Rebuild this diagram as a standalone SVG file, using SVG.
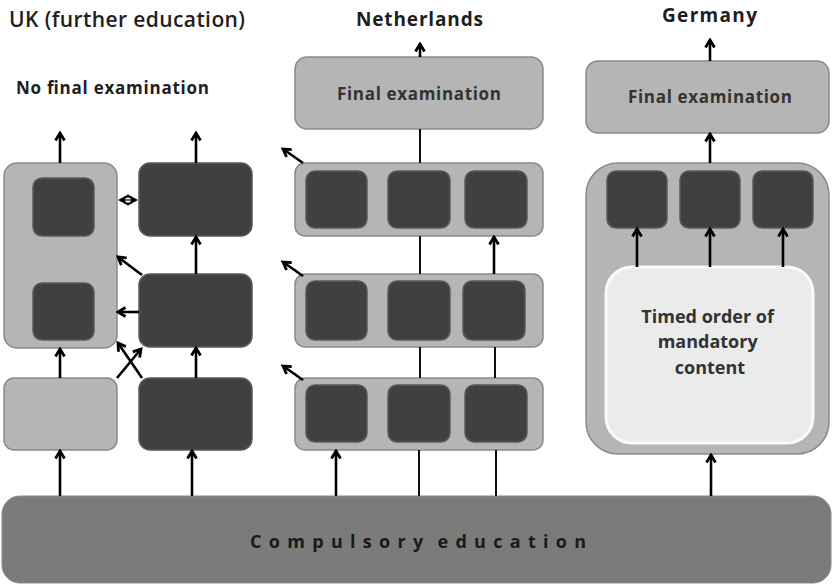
<svg xmlns="http://www.w3.org/2000/svg" width="832" height="584" viewBox="0 0 832 584">
<defs>
<marker id="ah" viewBox="0 0 12 12" refX="9.5" refY="6" markerWidth="12" markerHeight="12" markerUnits="userSpaceOnUse" orient="auto">
<path d="M2,1.5 L9.5,6 L2,10.5" fill="none" stroke="#000" stroke-width="2.8" stroke-linejoin="miter"/>
</marker>
</defs>
<style>
.light{fill:#b5b5b5;stroke:#8a8a8a;stroke-width:1.5}
.dark{fill:#404040;stroke:#5a5a5a;stroke-width:1.5}
.white{fill:#ebebeb;stroke:#fafafa;stroke-width:3}
.comp{fill:#7b7b7b;stroke:#8a8a8a;stroke-width:1}
.title{font-family:"Open Sans","DejaVu Sans",sans-serif;fill:#1e1e1e}
.lbl{font-family:"Open Sans","DejaVu Sans",sans-serif;font-weight:bold;fill:#333;text-anchor:middle}
.arr{stroke:#000;stroke-width:2.6;fill:none;marker-end:url(#ah)}
.ln{stroke:#111;stroke-width:2;fill:none}
</style>
<rect width="832" height="584" fill="#fff"/>

<g id="titles">
<text class="title" x="9" y="27" font-size="21" font-weight="600" textLength="236">UK (further education)</text>
<text class="title" x="16" y="94" font-size="17" font-weight="bold" textLength="193">No final examination</text>
<text class="title" x="356" y="26" font-size="19" font-weight="bold" textLength="127">Netherlands</text>
<text class="title" x="662" y="22" font-size="19" font-weight="bold" textLength="95">Germany</text>
</g>

<g id="uk-tall">
<rect class="light" x="4" y="163" width="113" height="185" rx="13"/>
<rect class="dark" x="33" y="178" width="61" height="58" rx="9"/>
<rect class="dark" x="33" y="283" width="61" height="57" rx="9"/>
</g>
<g id="uk-light-bottom"><rect class="light" x="4" y="378" width="113" height="72" rx="10"/></g>
<g id="uk-dark-1"><rect class="dark" x="139" y="163" width="113" height="73" rx="11"/></g>
<g id="uk-dark-2"><rect class="dark" x="139" y="274" width="113" height="73" rx="11"/></g>
<g id="uk-dark-3"><rect class="dark" x="139" y="378" width="113" height="72" rx="11"/></g>

<g id="nl-final">
<rect class="light" x="295" y="57" width="248" height="72" rx="12"/>
<text class="lbl" x="419" y="100" font-size="17" textLength="164">Final examination</text>
</g>
<g id="nl-row1">
<rect class="light" x="295" y="163" width="248" height="73" rx="10"/>
<rect class="dark" x="306" y="171" width="61" height="57" rx="9"/>
<rect class="dark" x="388" y="171" width="62" height="57" rx="9"/>
<rect class="dark" x="465" y="171" width="62" height="57" rx="9"/>
</g>
<g id="nl-row2">
<rect class="light" x="295" y="274" width="248" height="73" rx="10"/>
<rect class="dark" x="306" y="281" width="61" height="59" rx="9"/>
<rect class="dark" x="388" y="281" width="62" height="59" rx="9"/>
<rect class="dark" x="463" y="281" width="62" height="59" rx="9"/>
</g>
<g id="nl-row3">
<rect class="light" x="295" y="378" width="248" height="72" rx="10"/>
<rect class="dark" x="306" y="385" width="61" height="57" rx="9"/>
<rect class="dark" x="388" y="385" width="62" height="57" rx="9"/>
<rect class="dark" x="465" y="385" width="62" height="57" rx="9"/>
</g>

<g id="de-final">
<rect class="light" x="586" y="61" width="243" height="72" rx="12"/>
<text class="lbl" x="710" y="103" font-size="17" textLength="164">Final examination</text>
</g>
<g id="de-container">
<rect class="light" x="586" y="163" width="243" height="291" rx="32"/>
<rect class="dark" x="607" y="171" width="60" height="57" rx="9"/>
<rect class="dark" x="680" y="171" width="60" height="57" rx="9"/>
<rect class="dark" x="753" y="171" width="60" height="57" rx="9"/>
</g>
<g id="de-timed">
<rect class="white" x="606" y="267" width="207" height="176" rx="26"/>
<text class="lbl" font-size="18" fill="#333">
<tspan x="710" y="323">Timed order of</tspan>
<tspan x="710" y="348">mandatory</tspan>
<tspan x="710" y="374">content</tspan>
</text>
</g>

<g id="compulsory">
<rect class="comp" x="2" y="496" width="829" height="87" rx="18"/>
<text x="250" y="548" font-family="'Open Sans','DejaVu Sans',sans-serif" font-size="18" font-weight="bold" fill="#1a1a1a" letter-spacing="7.3" word-spacing="-5">Compulsory education</text>
</g>

<g id="connectors">
<!-- UK -->
<line class="arr" x1="60" y1="163" x2="60" y2="133"/>
<line class="arr" x1="196" y1="163" x2="196" y2="133"/>
<line class="arr" x1="196" y1="274" x2="196" y2="237"/>
<line class="arr" x1="196" y1="378" x2="196" y2="348"/>
<line class="arr" x1="60" y1="378" x2="60" y2="349"/>
<line class="arr" x1="142" y1="275" x2="118" y2="257"/>
<line class="arr" x1="139" y1="312" x2="118" y2="312"/>
<line class="arr" x1="117" y1="378" x2="141" y2="349"/>
<line class="arr" x1="142" y1="378" x2="118" y2="343"/>
<g id="uk-bidir">
<path d="M118,200 L128,194.5 L138,200 L128,205.5 Z" fill="#000"/>
<ellipse cx="128" cy="200" rx="3" ry="2.6" fill="#fff"/>
<line x1="124" y1="200" x2="132" y2="200" stroke="#000" stroke-width="1.2"/>
</g>
<line class="arr" x1="60" y1="496" x2="60" y2="451"/>
<line class="arr" x1="192" y1="496" x2="192" y2="451"/>
<!-- NL -->
<line class="arr" x1="420" y1="57" x2="420" y2="44"/>
<line class="ln" x1="420" y1="163" x2="420" y2="129"/>
<line class="ln" x1="420" y1="274" x2="420" y2="236"/>
<line class="arr" x1="494" y1="274" x2="494" y2="237"/>
<line class="ln" x1="420" y1="378" x2="420" y2="347"/>
<line class="ln" x1="495" y1="378" x2="495" y2="347"/>
<line class="arr" x1="303" y1="163" x2="283" y2="149"/>
<line class="arr" x1="303" y1="276" x2="283" y2="262"/>
<line class="arr" x1="303" y1="380" x2="283" y2="366"/>
<line class="arr" x1="336" y1="496" x2="336" y2="451"/>
<line class="ln" x1="419" y1="496" x2="419" y2="450"/>
<line class="ln" x1="496" y1="496" x2="496" y2="450"/>
<!-- DE -->
<line class="arr" x1="710" y1="61" x2="710" y2="40"/>
<line class="arr" x1="710" y1="163" x2="710" y2="134"/>
<line class="arr" x1="637" y1="267" x2="637" y2="229"/>
<line class="arr" x1="710" y1="267" x2="710" y2="229"/>
<line class="arr" x1="783" y1="267" x2="783" y2="229"/>
<line class="arr" x1="711" y1="496" x2="711" y2="455"/>
</g>
</svg>
